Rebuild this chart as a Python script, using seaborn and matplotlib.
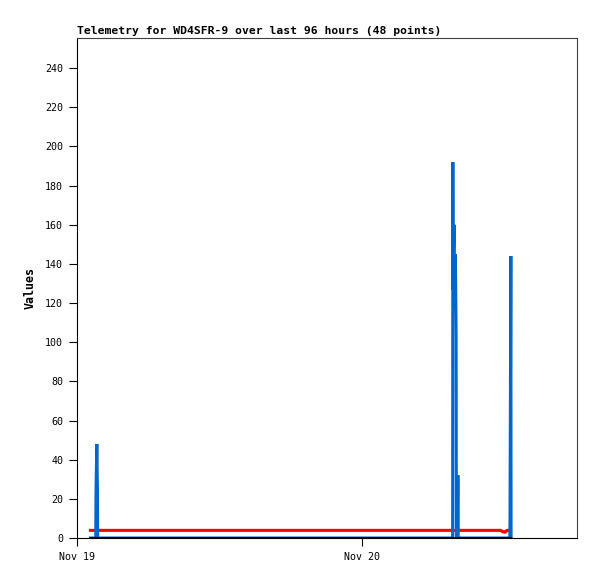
import pandas as pd
import seaborn as sns
import matplotlib
matplotlib.use("Agg")
import matplotlib.pyplot as plt
import matplotlib.dates as mdates

# telemetry samples, hours after Nov 19 00:00
hours = [
    1.00, 1.58, 1.60, 1.67, 1.72, 1.74,
    31.63, 31.646, 31.66, 31.75, 31.77, 31.80, 31.83, 31.86, 31.92, 31.94, 32.05, 32.07, 32.08,
    32.6, 33.1, 33.6, 34.1, 34.6, 35.0, 35.2, 35.4, 35.6, 35.7, 35.8,
    35.85, 35.9, 35.95, 36.0, 36.05, 36.1, 36.15, 36.2, 36.25, 36.3,
    36.35, 36.4, 36.44, 36.46, 36.53, 36.55, 36.58, 36.62,
]
blue_vals = [
    0, 0, 24, 48, 24, 0,
    0, 192, 127, 160, 127, 145, 127, 145, 104, 0, 0, 32, 0,
    0, 0, 0, 0, 0, 0, 0, 0, 0, 0, 0,
    0, 0, 0, 0, 0, 0, 0, 0, 0, 0,
    0, 0, 0, 8, 144, 0, 0, 0,
]
red_vals = [
    3.9, 3.9, 3.9, 3.9, 3.9, 3.9,
    3.9, 3.9, 3.9, 3.9, 3.9, 3.9, 3.9, 3.9, 3.9, 3.9, 3.9, 3.9, 3.9,
    3.9, 3.9, 3.9, 3.9, 3.9, 3.9, 3.9, 3.9, 3.9, 3.9, 3.3,
    3.2, 3.2, 3.3, 3.0, 2.9, 3.2, 3.6, 3.9, 3.9, 3.9,
    3.9, 3.9, 3.9, 3.9, 3.9, 3.9, 3.9, 3.9,
]
black_vals = [0] * len(hours)

yticks = list(range(0, 241, 20))

start = pd.Timestamp("2023-11-19 00:00")
df = pd.DataFrame({
    "time": start + pd.to_timedelta(hours, unit="h"),
    "blue": blue_vals,
    "red": red_vals,
    "black": black_vals,
})

sns.set_style("ticks")
plt.rcParams["font.family"] = ["DejaVu Sans Mono", "DejaVu Sans"]
plt.rcParams["text.color"] = "black"
plt.rcParams["axes.labelcolor"] = "black"
plt.rcParams["xtick.color"] = "black"
plt.rcParams["ytick.color"] = "black"

fig = plt.figure(figsize=(5.97, 5.79), dpi=100)
ax = fig.add_axes([77 / 597, 41 / 579, 500 / 597, 500 / 579])

line_kw = dict(solid_capstyle="butt", solid_joinstyle="bevel")
sns.lineplot(data=df, x="time", y="red", color="#ff0000", linewidth=2.2, ax=ax, **line_kw)
sns.lineplot(data=df, x="time", y="blue", color="#0066cc", linewidth=2.2, ax=ax, **line_kw)
sns.lineplot(data=df, x="time", y="black", color="#000000", linewidth=2.0, ax=ax, **line_kw)

ax.set_xlim(start, start + pd.Timedelta(hours=42.1))
ax.set_ylim(0, 255.4)
ax.set_yticks(yticks)
ax.xaxis.set_major_locator(mdates.DayLocator())
ax.xaxis.set_major_formatter(mdates.DateFormatter("%b %d"))

ax.tick_params(direction="out", length=6, width=0.8, color="black",
               labelcolor="black", labelsize=7.2, pad=4)
ax.set_xlabel("")
ax.set_ylabel("Values", fontsize=8.4, fontweight="bold", labelpad=6, color="black")
ax.set_title("Telemetry for WD4SFR-9 over last 96 hours (48 points)",
             loc="left", fontsize=8.2, fontweight="bold", pad=3, color="black")

for side in ["top", "right"]:
    ax.spines[side].set_visible(True)
    ax.spines[side].set_color("#404040")
for side in ["left", "bottom"]:
    ax.spines[side].set_color("black")
for sp in ax.spines.values():
    sp.set_linewidth(0.8)

fig.savefig("out.png", dpi=100)
